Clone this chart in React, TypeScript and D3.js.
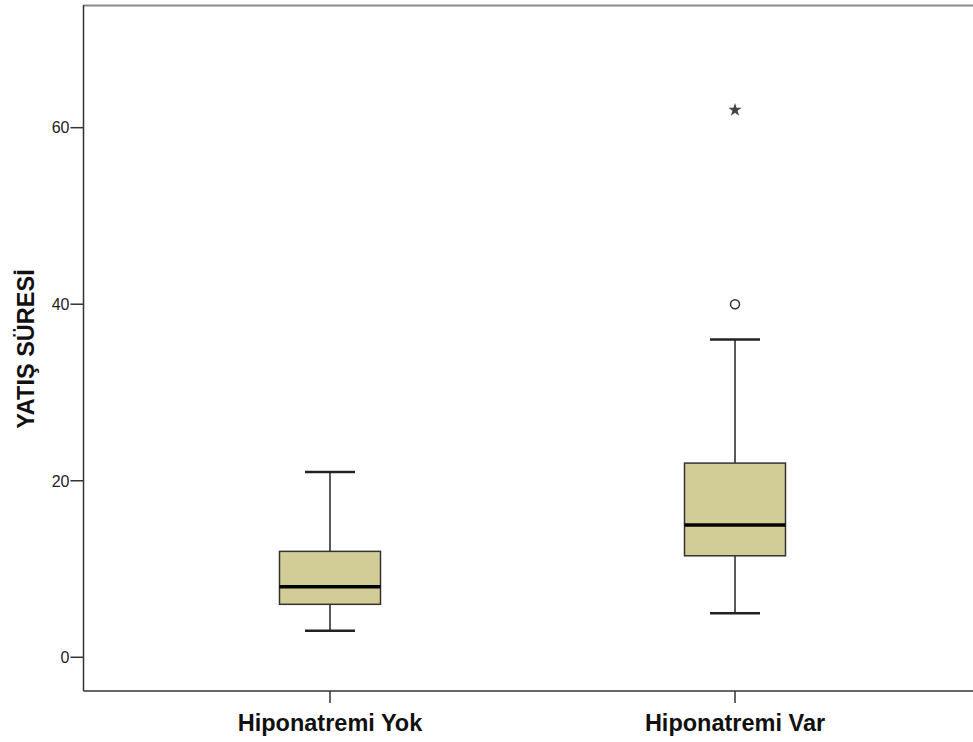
import React, { useRef, useEffect } from 'react';
import * as d3 from 'd3';

const categories = ['Hiponatremi Yok', 'Hiponatremi Var'];
const whiskerLow = [3, 5];
const q1 = [6, 11.5];
const medians = [8, 15];
const q3 = [12, 22];
const whiskerHigh = [21, 36];
const outliers = [[], [40]];
const extremes = [[], [62]];
const yTicks = [0, 20, 40, 60];

const FONT = 'Liberation Sans, Arial, sans-serif';

export default function App() {
  const svgRef = useRef<SVGSVGElement>(null);

  useEffect(() => {
    if (!svgRef.current) return;
    const width = 973;
    const left = 83.5, right = 981.5, top = 5, bottom = 691;
    const svg = d3.select(svgRef.current);
    svg.selectAll('*').remove();

    const x = d3.scalePoint<string>().domain(categories).range([left, right]).padding(0.6086);
    const y = d3.scaleLinear().domain([-3.82, 73.9]).range([bottom, top]);
    const boxW = 101;
    const capW = 50;

    // frame
    svg.append('line').attr('x1', left).attr('x2', width).attr('y1', top + 0.5).attr('y2', top + 0.5)
      .attr('stroke', '#8a8a8a').attr('stroke-width', 2);
    svg.append('line').attr('x1', left).attr('x2', left).attr('y1', top).attr('y2', bottom)
      .attr('stroke', '#333').attr('stroke-width', 1.5);
    svg.append('line').attr('x1', left).attr('x2', width).attr('y1', bottom).attr('y2', bottom)
      .attr('stroke', '#333').attr('stroke-width', 1.5);

    // y ticks
    const yg = svg.append('g');
    yTicks.forEach((t) => {
      yg.append('line').attr('x1', left - 13).attr('x2', left).attr('y1', y(t)).attr('y2', y(t))
        .attr('stroke', '#333').attr('stroke-width', 1.5);
      yg.append('text').attr('x', left - 14).attr('y', y(t)).attr('dy', '0.36em').attr('text-anchor', 'end')
        .attr('font-family', FONT).attr('font-size', 16).attr('fill', '#222').text(t);
    });
    svg.append('text').attr('transform', `translate(34,${349}) rotate(-90)`)
      .attr('text-anchor', 'middle').attr('font-family', FONT)
      .attr('font-size', 23.5).attr('font-weight', 'bold').attr('fill', '#111').text('YATIŞ SÜRESİ');

    // x ticks and labels
    categories.forEach((c) => {
      const cx = x(c)!;
      svg.append('line').attr('x1', cx).attr('x2', cx).attr('y1', bottom).attr('y2', bottom + 12)
        .attr('stroke', '#333').attr('stroke-width', 1.5);
      svg.append('text').attr('x', cx).attr('y', 731).attr('text-anchor', 'middle')
        .attr('font-family', FONT).attr('font-size', 23.5)
        .attr('font-weight', 'bold').attr('fill', '#111').text(c);
    });

    // boxes
    categories.forEach((c, i) => {
      const cx = x(c)!;
      const g = svg.append('g');
      g.append('line').attr('x1', cx).attr('x2', cx).attr('y1', y(whiskerHigh[i])).attr('y2', y(q3[i]))
        .attr('stroke', '#222').attr('stroke-width', 1.5);
      g.append('line').attr('x1', cx).attr('x2', cx).attr('y1', y(q1[i])).attr('y2', y(whiskerLow[i]))
        .attr('stroke', '#222').attr('stroke-width', 1.5);
      [whiskerHigh[i], whiskerLow[i]].forEach((v) => {
        g.append('line').attr('x1', cx - capW / 2).attr('x2', cx + capW / 2).attr('y1', y(v)).attr('y2', y(v))
          .attr('stroke', '#222').attr('stroke-width', 2.5);
      });
      g.append('rect').attr('x', cx - boxW / 2).attr('width', boxW).attr('y', y(q3[i]))
        .attr('height', y(q1[i]) - y(q3[i])).attr('fill', '#d2cd96').attr('stroke', '#333').attr('stroke-width', 1.5);
      g.append('line').attr('x1', cx - boxW / 2).attr('x2', cx + boxW / 2).attr('y1', y(medians[i])).attr('y2', y(medians[i]))
        .attr('stroke', '#000').attr('stroke-width', 3.5);
      outliers[i].forEach((v) => {
        g.append('circle').attr('cx', cx).attr('cy', y(v)).attr('r', 4.5)
          .attr('fill', 'white').attr('stroke', '#333').attr('stroke-width', 1.5);
      });
      extremes[i].forEach((v) => {
        g.append('path').attr('d', d3.symbol().type(d3.symbolStar).size(55)())
          .attr('transform', `translate(${cx},${y(v)})`).attr('fill', '#444');
      });
    });
  }, []);

  return (
    <svg ref={svgRef} width={973} height={742}
      style={{ position: 'absolute', left: 0, top: 0, background: 'white' }} />
  );
}
